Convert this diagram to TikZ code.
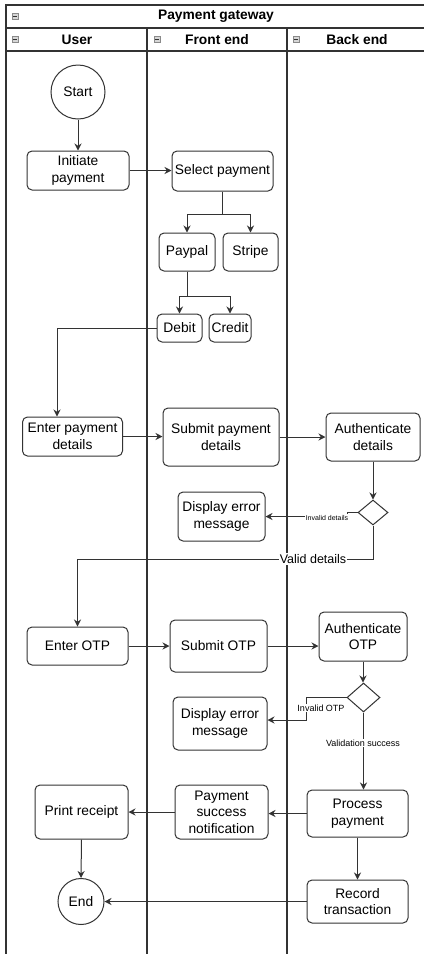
\documentclass[tikz,border=0pt]{standalone}
\usepackage{fontspec}
\setmainfont{Liberation Sans}
\usetikzlibrary{arrows.meta,shapes.geometric}
\definecolor{ln}{HTML}{333333}
\definecolor{icn}{HTML}{8A8A8A}
\begin{document}
\begin{tikzpicture}[x=1pt,y=-1pt,
  txt/.style={font=\fontsize{13.8}{16.6}\selectfont},
  box/.style={txt, draw=ln, line width=1pt, rounded corners=5pt, align=center, inner sep=0pt},
  circ/.style={txt, draw=ln, line width=1pt, circle, inner sep=0pt},
  dia/.style={draw=ln, line width=1pt, diamond, inner sep=0pt},
  arr/.style={draw=ln, line width=1pt, -{Stealth[length=7pt,width=7pt]}},
  lanel/.style={draw=ln, line width=1.4pt},
  hdr/.style={font=\fontsize{13.8}{16.6}\selectfont\bfseries, inner sep=0pt},
  lbl/.style={fill=white, inner sep=1pt},
  icon/.style={draw=icn, fill=icn!35, line width=0.6pt}
]
\useasboundingbox (0,0) rectangle (424,954);
\fill[white] (0,0) rectangle (424,954);

% pool and lanes
\draw[lanel] (6,954) -- (6,5) -- (424,5);
\draw[lanel] (6,28) -- (424,28);
\draw[lanel] (6,51) -- (424,51);
\draw[lanel] (147,28) -- (147,954);
\draw[lanel] (287,28) -- (287,954);

% collapse icons
\foreach \ix/\iy in {12/13, 12/36, 154/36, 293/36}{
  \draw[icon] (\ix,\iy) rectangle ++(6,6);
  \draw[ln, line width=0.7pt] (\ix+1.2,\iy+3) -- (\ix+4.8,\iy+3);
}

\node[hdr] (pool) at (216,16.5) {Payment gateway};
\node[hdr] (luser) at (77,39.5) {User};
\node[hdr] (lfront) at (217,39.5) {Front end};
\node[hdr] (lback) at (357,39.5) {Back end};

% nodes
\node[circ, minimum size=54pt] (start) at (78,92) {Start};
\node[box, minimum width=102pt, minimum height=39pt] (init) at (78,170.5) {Initiate\\payment};
\node[box, minimum width=101pt, minimum height=40pt] (sel) at (222.5,171) {Select payment};
\node[box, minimum width=56pt, minimum height=38pt] (paypal) at (187,252) {Paypal};
\node[box, minimum width=55pt, minimum height=38pt] (stripe) at (250.5,252) {Stripe};
\node[box, minimum width=45pt, minimum height=28pt] (debit) at (179.5,328) {Debit};
\node[box, minimum width=42pt, minimum height=28pt] (credit) at (230,328) {Credit};
\node[box, minimum width=100pt, minimum height=39pt] (entpd) at (72.5,436.5) {Enter payment\\details};
\node[box, minimum width=116pt, minimum height=58pt] (subpd) at (221,437) {Submit payment\\details};
\node[box, minimum width=94pt, minimum height=48pt] (authd) at (373,437) {Authenticate\\details};
\node[dia, minimum width=30pt, minimum height=25pt] (d1) at (373,512.5) {};
\node[box, minimum width=87pt, minimum height=49pt] (err1) at (221.5,516.5) {Display error\\message};
\node[box, minimum width=101pt, minimum height=38pt] (eotp) at (77.5,646) {Enter OTP};
\node[box, minimum width=97pt, minimum height=52pt] (sotp) at (218.5,646) {Submit OTP};
\node[box, minimum width=88pt, minimum height=49pt] (aotp) at (363,636.5) {Authenticate\\OTP};
\node[dia, minimum width=33pt, minimum height=29pt] (d2) at (363.5,697.5) {};
\node[box, minimum width=94pt, minimum height=53pt] (err2) at (220,723.5) {Display error\\message};
\node[box, minimum width=101pt, minimum height=47pt] (pp) at (357.5,813.5) {Process\\payment};
\node[box, minimum width=93pt, minimum height=54pt] (psn) at (221.5,812) {Payment\\success\\notification};
\node[box, minimum width=93pt, minimum height=54pt] (pr) at (81.5,812) {Print receipt};
\node[circ, minimum size=46pt] (end) at (81,901.5) {End};
\node[box, minimum width=101pt, minimum height=43pt] (rec) at (357.5,901.5) {Record\\transaction};

% helper coordinates
\coordinate (f1) at (222.5,214);
\coordinate (f2) at (187,296);
\coordinate (dk) at (57,328);
\coordinate (j1) at (347,512.5);
\coordinate (j1b) at (347,516.5);
\coordinate (v1) at (373,559);
\coordinate (j2) at (306,697.5);
\coordinate (j3) at (306,720);

% connectors
\draw[arr] (start) -- (init);
\draw[arr] (init.east) -- (init.east -| sel.west);
\draw[arr] (sel.south) -- (f1) -| (paypal.north);
\draw[arr] (sel.south) -- (f1) -| (stripe.north);
\draw[arr] (paypal.south) -- (f2) -| (debit.north);
\draw[arr] (paypal.south) -- (f2) -| (credit.north);
\draw[arr] (debit.west) -- (dk) -- (dk |- entpd.north);
\draw[arr] (entpd.east) -- (entpd.east -| subpd.west);
\draw[arr] (subpd.east) -- (authd.west);
\draw[arr] (authd.south) -- (d1.north);
\draw[arr] (d1.west) -- (j1) -- (j1b) -- (err1.east);
\draw[arr] (d1.south) -- (v1) -| (eotp.north);
\draw[arr] (eotp.east) -- (sotp.west);
\draw[arr] (sotp.east) -- (sotp.east -| aotp.west);
\draw[arr] (aotp.south) -- (aotp.south |- d2.north);
\draw[arr] (d2.west) -- (j2) -- (j3) -- (j3 -| err2.east);
\draw[arr] (d2.south) -- (d2.south |- pp.north);
\draw[arr] (pp.west) -- (pp.west -| psn.east);
\draw[arr] (psn.west) -- (psn.west -| pr.east);
\draw[arr] (pp.south) -- (rec.north);
\draw[arr] (pr.south) -- (end.north);
\draw[arr] (rec.west) -- (rec.west -| end.east);

% edge labels
\node[lbl, font=\fontsize{7}{8}\selectfont] (linvd) at (327,518) {Invalid details};
\node[lbl, font=\fontsize{12.5}{14}\selectfont] (lvd) at (313,559) {Valid details};
\node[lbl, font=\fontsize{9}{10}\selectfont] (linvo) at (321,708) {Invalid OTP};
\node[lbl, font=\fontsize{9}{10}\selectfont] (lvs) at (363,743) {Validation success};
\end{tikzpicture}
\end{document}
